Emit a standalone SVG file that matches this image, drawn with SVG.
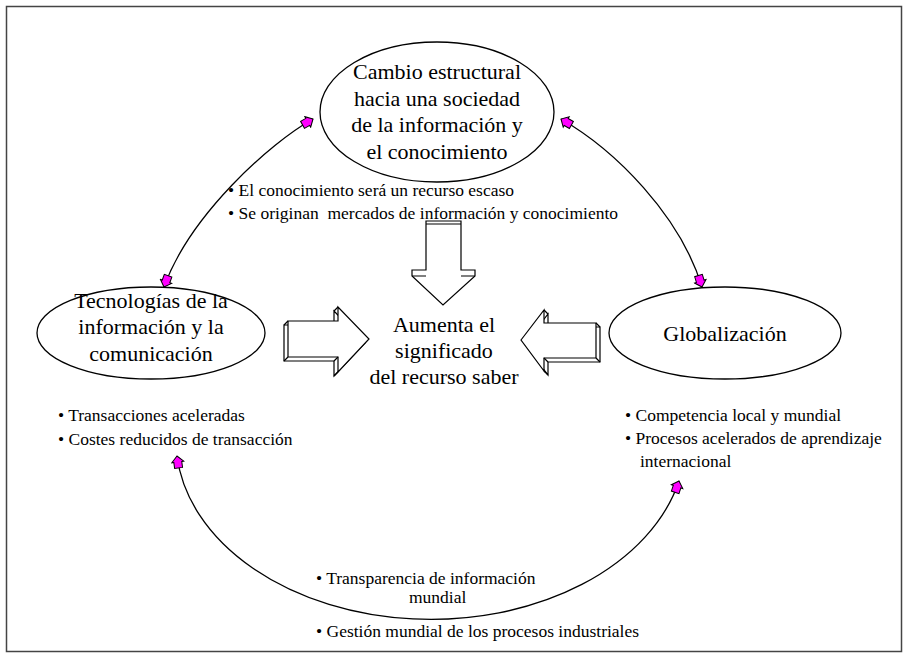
<svg xmlns="http://www.w3.org/2000/svg" width="909" height="660" viewBox="0 0 909 660">
<style>
.t{font-family:"Liberation Serif","Times New Roman",serif;font-size:22px;fill:#000;text-anchor:middle}
.b{font-family:"Liberation Serif","Times New Roman",serif;font-size:17.5px;fill:#000;white-space:pre}
.e{fill:#fff;stroke:#000;stroke-width:1.3}
.c{fill:none;stroke:#000;stroke-width:1.3}
.ba{fill:#fff;stroke:#000;stroke-width:1.2;stroke-linejoin:miter}
</style>
<defs>
<marker id="m" markerUnits="userSpaceOnUse" viewBox="-13 -7 14 14" refX="0" refY="0" markerWidth="14" markerHeight="14" orient="auto-start-reverse">
<path d="M0,0 L-6,-6 L-6,-4 L-12,-4 L-12,4 L-6,4 L-6,6 Z" fill="#FF00FF" stroke="#000" stroke-width="1"/>
</marker>
</defs>
<rect x="6.5" y="6.5" width="895" height="645" fill="#fff" stroke="#444" stroke-width="1.5"/>

<g id="connectors">
<path class="c" d="M313,119 C270,143 190,215 164,287" marker-start="url(#m)" marker-end="url(#m)"/>
<path class="c" d="M561,119 C615,150 680,215 702,287" marker-start="url(#m)" marker-end="url(#m)"/>
<path class="c" d="M177,456 A255,180 0 0 0 679,481" marker-start="url(#m)" marker-end="url(#m)"/>
</g>

<g id="node-top">
<ellipse class="e" cx="437" cy="112" rx="117" ry="70"/>
<text class="t" x="437" y="79">Cambio estructural</text>
<text class="t" x="437" y="106">hacia una sociedad</text>
<text class="t" x="437" y="132">de la información y</text>
<text class="t" x="437" y="159">el conocimiento</text>
</g>

<g id="node-left">
<ellipse class="e" cx="151" cy="333" rx="114" ry="46"/>
<text class="t" x="151" y="308">Tecnologías de la</text>
<text class="t" x="151" y="334">información y la</text>
<text class="t" x="151" y="361">comunicación</text>
</g>

<g id="node-right">
<ellipse class="e" cx="725" cy="333" rx="116" ry="46"/>
<text class="t" x="725" y="341">Globalización</text>
</g>

<g id="node-center">
<text class="t" x="444" y="332">Aumenta el</text>
<text class="t" x="444" y="358">significado</text>
<text class="t" x="444" y="384">del recurso saber</text>
</g>

<g id="arrow-down">
<polygon class="ba" points="426,221 461,221 461,270 475,270 475,276 443,305 412,276 412,270 426,270"/>
<path class="c" style="stroke-width:1.2" d="M426,224 H461 M412,276 H426 M461,276 H475"/>
</g>

<g id="arrow-right">
<polygon class="ba" points="284,325 334,325 334,311 365,343 334,376 334,361 284,361"/>
<polygon class="ba" points="288,321 338,321 338,307 369,339 338,372 338,357 288,357"/>
<path class="c" style="stroke-width:1.2" d="M288,321 L284,325 M288,357 L284,361 M338,307 L334,311 M338,357 L334,361 M338,372 L334,376"/>
</g>

<g id="arrow-left">
<polygon class="ba" points="525,344 548,314 548,327 600,327 600,362 548,362 548,375"/>
<polygon class="ba" points="521,340 544,310 544,323 596,323 596,358 544,358 544,371"/>
<path class="c" style="stroke-width:1.2" d="M544,310 L548,314 M596,323 L600,327 M596,358 L600,362 M544,358 L548,362 M544,371 L548,375"/>
</g>

<g id="labels">
<text class="b" x="228" y="196">• El conocimiento será un recurso escaso</text>
<text class="b" x="228" y="219">• Se originan  mercados de información y conocimiento</text>
<text class="b" x="58" y="421">• Transacciones aceleradas</text>
<text class="b" x="58" y="445">• Costes reducidos de transacción</text>
<text class="b" x="625" y="421">• Competencia local y mundial</text>
<text class="b" x="625" y="444">• Procesos acelerados de aprendizaje</text>
<text class="b" x="640" y="467">internacional</text>
<text class="b" x="316" y="584">• Transparencia de información</text>
<text class="b" x="409" y="603">mundial</text>
<text class="b" x="316" y="637">• Gestión mundial de los procesos industriales</text>
</g>
</svg>
